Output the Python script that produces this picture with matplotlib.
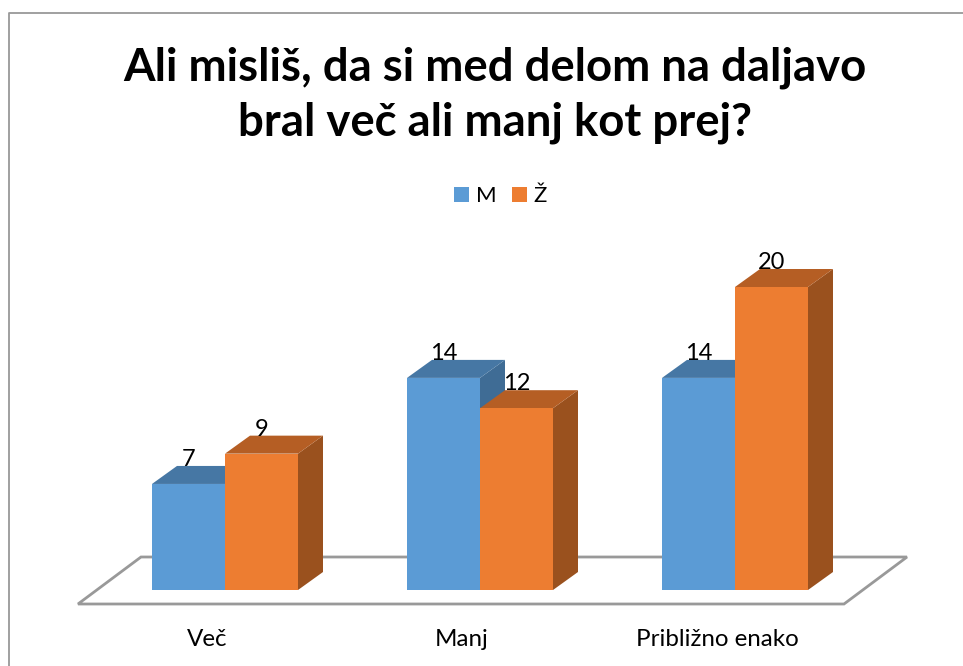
import matplotlib
matplotlib.use("Agg")
import matplotlib.pyplot as plt
from matplotlib.patches import Polygon, Rectangle

categories = ["Več", "Manj", "Približno enako"]
series_names = ["M", "Ž"]
values_m = [7, 14, 14]
values_z = [9, 12, 20]
title = "Ali misliš, da si med delom na daljavo\nbral več ali manj kot prej?"

W, H = 963, 666
plt.rcParams['font.family'] = ['Lato', 'DejaVu Sans']
fig = plt.figure(figsize=(W / 100, H / 100), dpi=100, facecolor='white')
ax = fig.add_axes([0, 0, 1, 1])

# data scale: category index on x, value on y, mapped on the figure
PX_PER_CAT = 255.0
PX_PER_VAL = 15.15
X0 = 225.0
Y0 = 590.0
ax.set_xlim((0 - X0) / PX_PER_CAT, (W - X0) / PX_PER_CAT)
ax.set_ylim((Y0 - H) / PX_PER_VAL, Y0 / PX_PER_VAL)
ax.axis('off')

def sx(p):
    return (p - X0) / PX_PER_CAT

def sy(p):
    return (Y0 - p) / PX_PER_VAL

bw = 73 / PX_PER_CAT
dx = 25 / PX_PER_CAT
dy = 18 / PX_PER_VAL

# frame (top and left edges only are visible)
ax.plot([sx(8.5), sx(8.5), sx(964)], [sy(667), sy(12.5), sy(12.5)],
        color='#999999', lw=1.3, zorder=1, clip_on=False)

# floor
ax.add_patch(Polygon([(sx(78), sy(604)), (sx(844), sy(604)), (sx(907), sy(557)), (sx(141), sy(557))],
                     closed=True, fc='white', ec='#999999', lw=2, zorder=2))

def bar3d(left, v, front, top, side, z):
    ax.add_patch(Polygon([(left + bw, 0), (left + bw + dx, dy), (left + bw + dx, v + dy), (left + bw, v)],
                         fc=side, ec='none', zorder=z))
    ax.add_patch(Polygon([(left, v), (left + bw, v), (left + bw + dx, v + dy), (left + dx, v + dy)],
                         fc=top, ec='none', zorder=z))
    ax.add_patch(Rectangle((left, 0), bw, v, fc=front, ec='none', zorder=z))

z = 3
for i, (m, f) in enumerate(zip(values_m, values_z)):
    bar3d(i - bw, m, '#5B9BD5', '#4677A4', '#3F6C95', z)
    bar3d(i, f, '#ED7D31', '#B55E24', '#9A511E', z + 1)
    z += 2

for i, (m, f) in enumerate(zip(values_m, values_z)):
    ax.text(i - 0.5 * bw, m + dy, str(m), fontsize=17, ha='center',
            va='baseline', color='black', zorder=20)
    ax.text(i + 0.5 * bw, f + dy, str(f), fontsize=17, ha='center',
            va='baseline', color='black', zorder=20)
    ax.text(i - 18 / PX_PER_CAT, sy(646), categories[i], fontsize=17.4, ha='center',
            va='baseline', color='black')

ax.text(sx(494.5), sy(136), title, fontsize=32.75, fontweight='bold', ha='center', va='baseline',
        linespacing=1.39, color='black')

# legend
ax.add_patch(Rectangle((sx(454), sy(202)), 15 / PX_PER_CAT, 15 / PX_PER_VAL, fc='#5B9BD5', ec='none'))
ax.add_patch(Rectangle((sx(512), sy(202)), 15 / PX_PER_CAT, 15 / PX_PER_VAL, fc='#ED7D31', ec='none'))
ax.text(sx(476), sy(202), series_names[0], fontsize=16, va='baseline', ha='left', color='black')
ax.text(sx(533), sy(202), series_names[1], fontsize=16, va='baseline', ha='left', color='black')

fig.savefig('out.png', dpi=100, facecolor='white')
